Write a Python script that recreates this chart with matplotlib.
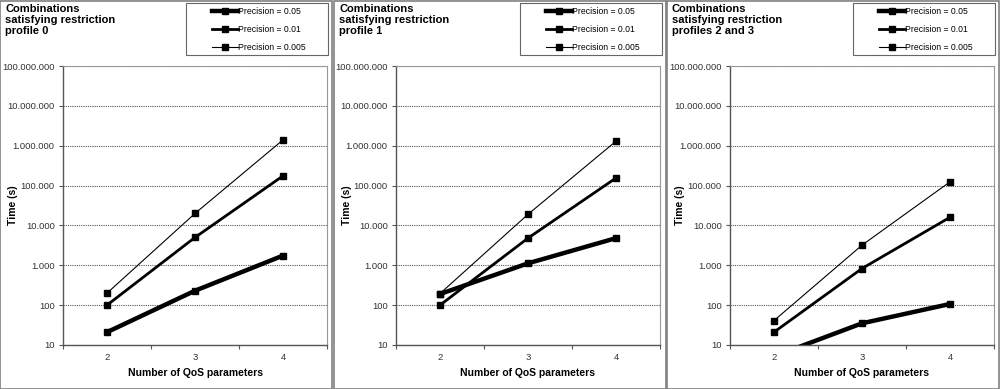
import numpy as np
import matplotlib.pyplot as plt
from matplotlib.patches import Rectangle
from matplotlib.ticker import FuncFormatter, FixedLocator, NullFormatter

plt.rcParams['font.family'] = ['Liberation Sans', 'DejaVu Sans']

qos = [2, 3, 4]
labels = ["Precision = 0.05", "Precision = 0.01", "Precision = 0.005"]
titles = ["Combinations\nsatisfying restriction\nprofile 0",
          "Combinations\nsatisfying restriction\nprofile 1",
          "Combinations\nsatisfying restriction\nprofiles 2 and 3"]

# time (s) per panel, per precision
p0_005 = [21, 230, 1750]
p0_001 = [100, 5000, 175000]
p0_0005 = [200, 20000, 1400000]

p1_005 = [190, 1120, 4800]
p1_001 = [100, 4800, 155000]
p1_0005 = [195, 19000, 1300000]

p2_005 = [5.2, 35, 107]
p2_001 = [21, 830, 16000]
p2_0005 = [41, 3200, 124000]

panels = [[p0_005, p0_001, p0_0005],
          [p1_005, p1_001, p1_0005],
          [p2_005, p2_001, p2_0005]]

widths = [3.2, 2.0, 0.8]

W, H = 1000, 389
fig = plt.figure(figsize=(10, 3.89), dpi=100)

panel_x = [0, 334, 667]
panel_w = [332, 332, 332]
ax_left = [63, 396, 730]
ax_w = 264

def dotfmt(v, pos):
    return "{:,.0f}".format(v).replace(",", ".")

for i in range(3):
    px = panel_x[i]
    fig.patches.append(Rectangle((px / W, 0.5 / H), panel_w[i] / W, (H - 1.5) / H,
                                 transform=fig.transFigure, fill=False,
                                 edgecolor="#808080", linewidth=1.2))

    ax = fig.add_axes([ax_left[i] / W, (H - 345) / H, ax_w / W, (345 - 66) / H])
    for j in range(3):
        ax.plot(qos, panels[i][j], color="black", linewidth=widths[j],
                marker="s", markersize=5, label=labels[j])
    ax.set_yscale("log")
    ax.set_ylim(10, 1e8)
    ax.set_xlim(1.5, 4.5)
    ax.yaxis.set_major_locator(FixedLocator([10 ** k for k in range(1, 9)]))
    ax.yaxis.set_minor_formatter(NullFormatter())
    ax.yaxis.set_minor_locator(FixedLocator([]))
    ax.yaxis.set_major_formatter(FuncFormatter(dotfmt))
    ax.xaxis.set_major_locator(FixedLocator([1.5, 2.5, 3.5, 4.5]))
    ax.xaxis.set_major_formatter(NullFormatter())
    ax.xaxis.set_minor_locator(FixedLocator(qos))
    ax.xaxis.set_minor_formatter(FuncFormatter(lambda v, p: "%d" % v))
    ax.tick_params(axis="x", which="minor", length=0, labelsize=6.8, pad=6, colors="#333333")
    ax.tick_params(axis="x", which="major", length=3, color="#555555", direction="out")
    ax.tick_params(axis="y", which="major", length=3, color="#555555", labelsize=6.8,
                   pad=3, labelcolor="#333333")
    ax.grid(axis="y", which="major", linestyle=(0, (1, 1)), color="#555555", linewidth=0.8)
    for s in ["left", "bottom"]:
        ax.spines[s].set_color("#555555")
        ax.spines[s].set_linewidth(1.0)
    for s in ["top", "right"]:
        ax.spines[s].set_color("#999999")
        ax.spines[s].set_linewidth(0.8)
    ax.set_xlabel("Number of QoS parameters", fontsize=7.5, fontweight="bold", labelpad=4)
    ax.set_ylabel("Time (s)", fontsize=7.5, fontweight="bold")
    ax.yaxis.set_label_coords((px + 18 - ax_left[i]) / ax_w, 0.5)

    fig.text((px + 5) / W, 1 - 4 / H, titles[i], fontsize=8, fontweight="bold",
             va="top", ha="left", linespacing=1.1)

    fig.patches.append(Rectangle(((px + 186) / W, 1 - 55 / H), 142 / W, 52 / H,
                                 transform=fig.transFigure, fill=False,
                                 edgecolor="#666666", linewidth=0.8))
    leg = ax.legend(loc="upper left", bbox_to_anchor=((px + 212) / W, 1 - 7 / H),
                    bbox_transform=fig.transFigure, fontsize=6.2, frameon=False,
                    handlelength=3.0, handletextpad=0.05, labelspacing=1.05,
                    borderpad=0, borderaxespad=0, markerscale=0.8)

fig.savefig("out.png", dpi=100)
